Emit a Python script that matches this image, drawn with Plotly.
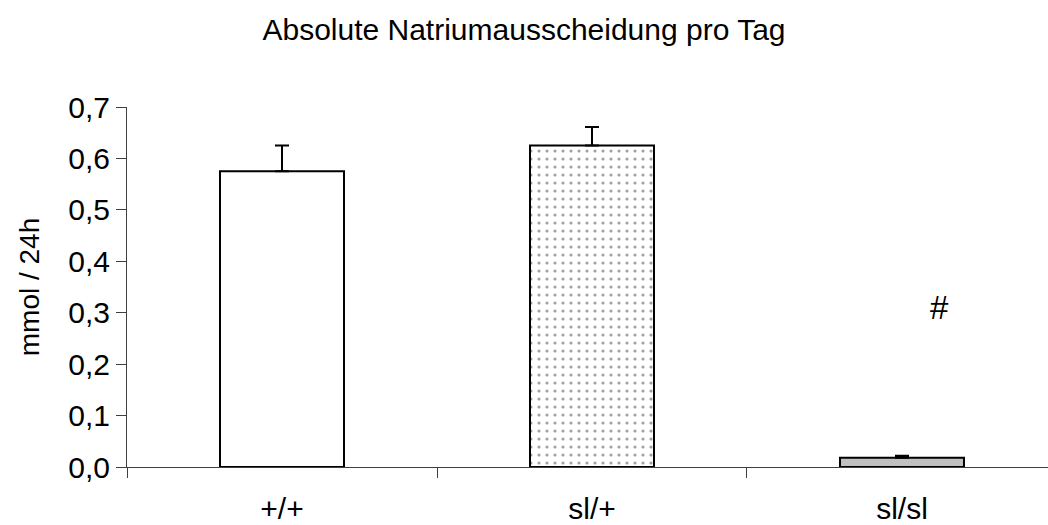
import plotly.graph_objects as go

# Daily absolute sodium excretion per genotype
genotypes = ["+/+", "sl/+", "sl/sl"]
excretion = [0.575, 0.625, 0.018]
sem = [0.050, 0.036, 0.004]
fills = ["white", "white", "#c0c0c0"]
patterns = ["", ".", ""]
y_ticks = [0.0, 0.1, 0.2, 0.3, 0.4, 0.5, 0.6, 0.7]

font_name = "Liberation Sans, Arial, sans-serif"

fig = go.Figure()
fig.add_trace(go.Bar(
    x=genotypes,
    y=excretion,
    width=0.4,
    marker=dict(
        color=fills,
        line=dict(color="black", width=2),
        pattern=dict(shape=patterns, fgcolor="#444444", bgcolor="white",
                     size=8, solidity=0.12, fillmode="overlay"),
    ),
    error_y=dict(type="data", symmetric=False, array=sem,
                 arrayminus=[0, 0, 0], color="black", thickness=2, width=7),
    showlegend=False,
))

fig.add_annotation(x=2.12, y=0.31, xref="x", yref="y", text="#",
                   showarrow=False, font=dict(size=33, color="black", family=font_name))

fig.update_layout(
    width=1048, height=525,
    margin=dict(l=127, r=0, t=107, b=58),
    paper_bgcolor="white", plot_bgcolor="white",
    separators=",.",
    font=dict(family=font_name, color="black"),
    title=dict(text="Absolute Natriumausscheidung pro Tag", x=0.5, xref="container",
               y=1 - 29 / 525, yref="container", xanchor="center", yanchor="middle",
               font=dict(size=30, family=font_name, color="black")),
    bargap=0.6,
)

fig.update_xaxes(
    type="category", range=[-0.5, 2.471], tickson="boundaries",
    ticks="outside", ticklen=10, tickcolor="#404040",
    showline=True, linecolor="#404040", linewidth=1,
    showgrid=False, zeroline=False, automargin=False,
    tickfont=dict(size=30, family=font_name), ticklabelstandoff=15,
)
fig.update_yaxes(
    range=[0, 0.7], tickvals=y_ticks, tickformat=".1f",
    ticks="outside", ticklen=10, tickcolor="#404040",
    showline=True, linecolor="#404040", linewidth=1,
    showgrid=False, zeroline=False, automargin=False,
    tickfont=dict(size=30, family=font_name),
    title=dict(text="mmol / 24h", font=dict(size=28, family=font_name), standoff=20),
)

fig.write_html("out.html")
